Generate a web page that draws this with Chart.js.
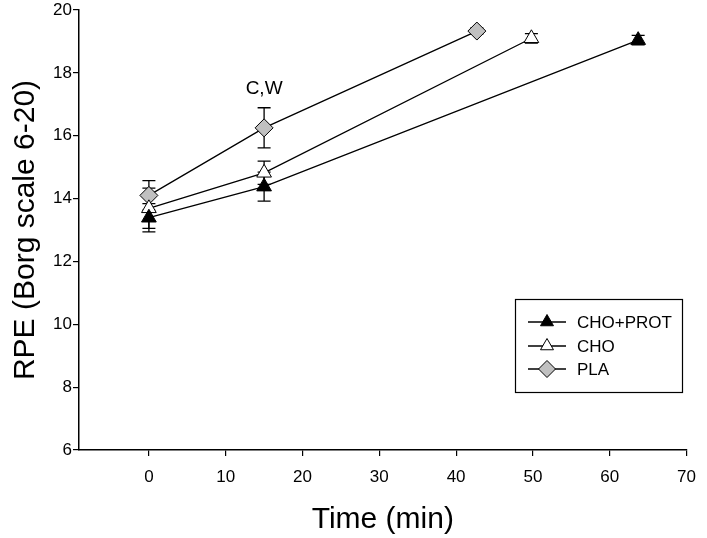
<!DOCTYPE html>
<html>
<head>
<meta charset="utf-8">
<script src="https://cdn.jsdelivr.net/npm/chart.js@4"></script>
<style>
  body { margin: 0; background: #fff; }
  canvas { display: block; }
</style>
</head>
<body>
<canvas id="rpeChart" width="707" height="538"></canvas>
<script>
// values
const protTime = [0, 15, 63.7];
const protRpe = [13.39, 14.38, 19.04];
const protErr = [0.45, 0.46, 0.15];

const choTime = [0, 15, 49.8];
const choRpe = [13.69, 14.82, 19.1];
const choErr = [0.64, 0.37, 0.15];

const plaTime = [0, 15, 42.7];
const plaRpe = [14.1, 16.25, 19.33];
const plaErr = [0.47, 0.64, 0.1];

const xTicks = [0, 10, 20, 30, 40, 50, 60, 70];
const yTicks = [6, 8, 10, 12, 14, 16, 18, 20];

const seriesNames = ['CHO+PROT', 'CHO', 'PLA'];
const note = { x: 15, y: 17.5, text: 'C,W' };

const FONT = "'Liberation Sans', Arial, sans-serif";

function points(xs, ys) {
    return xs.map((x, i) => ({ x: x, y: ys[i] }));
}

const styles = [
    { pointStyle: 'triangle', radius: 8.5, fill: '#000000' },
    { pointStyle: 'triangle', radius: 8.5, fill: '#ffffff' },
    { pointStyle: 'rectRot', radius: 9, fill: '#c0c0c0' },
];
const errs = [protErr, choErr, plaErr];

const datasets = [
    points(protTime, protRpe),
    points(choTime, choRpe),
    points(plaTime, plaRpe),
].map((d, i) => ({
    label: seriesNames[i],
    data: d,
    borderColor: '#000',
    borderWidth: 1.3,
    pointStyle: styles[i].pointStyle,
    pointRadius: styles[i].radius,
    pointHoverRadius: styles[i].radius,
    pointBackgroundColor: styles[i].fill,
    pointBorderColor: '#000',
    pointBorderWidth: 1,
    tension: 0,
    fill: false,
}));

// vertical error bars, drawn under the markers
const errorBars = {
    id: 'errorBars',
    beforeDatasetsDraw(chart) {
        const ctx = chart.ctx;
        const xs = chart.scales.x, ys = chart.scales.y;
        ctx.save();
        ctx.strokeStyle = '#000';
        ctx.lineWidth = 1.3;
        chart.data.datasets.forEach((ds, i) => {
            ds.data.forEach((p, j) => {
                const e = errs[i][j];
                const px = xs.getPixelForValue(p.x);
                const top = ys.getPixelForValue(p.y + e);
                const bot = ys.getPixelForValue(p.y - e);
                ctx.beginPath();
                ctx.moveTo(px, top); ctx.lineTo(px, bot);
                ctx.moveTo(px - 6.5, top); ctx.lineTo(px + 6.5, top);
                ctx.moveTo(px - 6.5, bot); ctx.lineTo(px + 6.5, bot);
                ctx.stroke();
            });
        });
        ctx.restore();
    }
};

// "C,W" label and the boxed legend
const extras = {
    id: 'extras',
    afterDraw(chart) {
        const ctx = chart.ctx;
        const xs = chart.scales.x, ys = chart.scales.y;
        ctx.save();
        ctx.fillStyle = '#000';
        ctx.font = '19px ' + FONT;
        ctx.textAlign = 'center';
        ctx.textBaseline = 'middle';
        ctx.fillText(note.text, xs.getPixelForValue(note.x), ys.getPixelForValue(note.y));

        // legend box
        ctx.strokeStyle = '#000';
        ctx.lineWidth = 1.2;
        ctx.strokeRect(515.5, 299.5, 167, 93);
        ctx.font = '17px ' + FONT;
        ctx.textAlign = 'left';
        const rows = [322, 346, 369];
        rows.forEach((ry, i) => {
            ctx.lineWidth = 1.3;
            ctx.beginPath();
            ctx.moveTo(528, ry); ctx.lineTo(566, ry);
            ctx.stroke();
            ctx.fillStyle = styles[i].fill;
            ctx.lineWidth = 1;
            Chart.helpers.drawPoint(ctx, {
                pointStyle: styles[i].pointStyle,
                radius: styles[i].pointStyle === 'triangle' ? 7.5 : 8.5,
                rotation: 0,
                borderWidth: 1,
            }, 547, ry);
            ctx.fillStyle = '#000';
            ctx.fillText(seriesNames[i], 577, ry + 1);
        });
        ctx.restore();
    }
};

new Chart(document.getElementById('rpeChart'), {
    type: 'line',
    data: { datasets: datasets },
    options: {
        responsive: false,
        animation: false,
        layout: { padding: { top: 8, right: 12, left: 0, bottom: 0 } },
        plugins: {
            legend: { display: false },
            tooltip: { enabled: false },
        },
        scales: {
            x: {
                type: 'linear',
                min: -9.1,
                max: 70,
                afterBuildTicks(axis) {
                    axis.ticks = xTicks.map(v => ({ value: v }));
                },
                afterFit(axis) { axis.height = 88; },
                grid: {
                    drawOnChartArea: false,
                    drawTicks: true,
                    tickLength: 6,
                    color: '#000',
                    lineWidth: 1.2,
                },
                border: { color: '#000', width: 1.5 },
                ticks: {
                    color: '#000',
                    font: { family: FONT, size: 17 },
                    padding: 11,
                    maxRotation: 0,
                },
                title: {
                    display: true,
                    text: 'Time (min)',
                    color: '#000',
                    font: { family: FONT, size: 30 },
                    padding: { top: 0, bottom: 0 },
                },
            },
            y: {
                min: 6,
                max: 20,
                afterBuildTicks(axis) {
                    axis.ticks = yTicks.map(v => ({ value: v }));
                },
                afterFit(axis) { axis.width = 79; },
                grid: {
                    drawOnChartArea: false,
                    drawTicks: true,
                    tickLength: 6,
                    color: '#000',
                    lineWidth: 1.2,
                },
                border: { color: '#000', width: 1.5 },
                ticks: {
                    color: '#000',
                    font: { family: FONT, size: 17, lineHeight: 1 },
                    padding: 1,
                },
                title: {
                    display: true,
                    text: 'RPE (Borg scale 6-20)',
                    color: '#000',
                    font: { family: FONT, size: 30 },
                    padding: { top: 8, bottom: 0 },
                },
            },
        },
    },
    plugins: [errorBars, extras],
});
</script>
</body>
</html>
